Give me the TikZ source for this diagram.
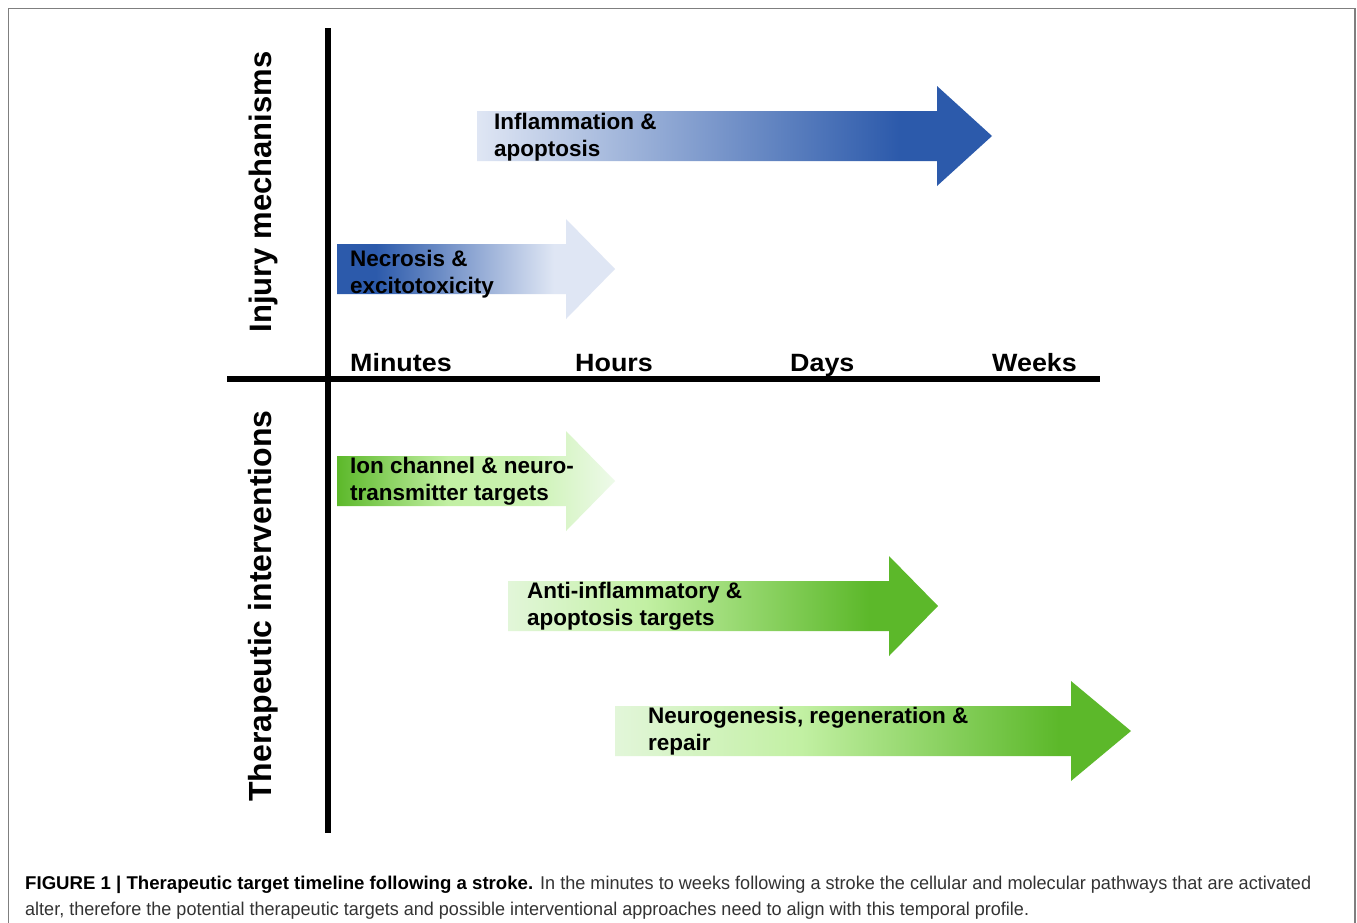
\documentclass[tikz,border=0pt]{standalone}
\usepackage{fontspec}
\setmainfont{Liberation Sans}
\usepackage{graphicx}
\definecolor{bluedark}{HTML}{2C5AAB}
\definecolor{bluelight}{HTML}{DFE6F4}
\definecolor{greendark}{HTML}{5CB82A}
\definecolor{greenlime}{HTML}{C2F0A3}
\definecolor{greenlight}{HTML}{E2F6D9}
\definecolor{greenpale}{HTML}{EEFAEA}
\definecolor{framegray}{HTML}{7F7F7F}
\definecolor{captext}{HTML}{333333}
\pgfdeclarehorizontalshading{inflamshade}{100bp}{color(0bp)=(bluelight); color(25bp)=(bluelight); color(66bp)=(bluedark); color(100bp)=(bluedark)}
\pgfdeclarehorizontalshading{necroshade}{100bp}{color(0bp)=(bluedark); color(25bp)=(bluedark); color(32bp)=(bluedark); color(64bp)=(bluelight); color(100bp)=(bluelight)}
\pgfdeclarehorizontalshading{ionshade}{100bp}{color(0bp)=(greendark); color(25bp)=(greendark); color(45bp)=(greenlime); color(60bp)=(greenlime!70!greenlight); color(75bp)=(greenpale); color(100bp)=(greenpale)}
\pgfdeclarehorizontalshading{antishade}{100bp}{color(0bp)=(greenlight); color(25bp)=(greenlight); color(41bp)=(greenlime); color(67bp)=(greendark); color(100bp)=(greendark)}
\pgfdeclarehorizontalshading{neuroshade}{100bp}{color(0bp)=(greenlight); color(25bp)=(greenlight); color(43bp)=(greenlime); color(68bp)=(greendark); color(100bp)=(greendark)}
\newcommand\blockarrow[5]{%
  \shade[shading=#1] (#2,#5-25) -- (#3,#5-25) -- (#3,#5-50) -- (#4,#5)
    -- (#3,#5+50) -- (#3,#5+25) -- (#2,#5+25) -- cycle;}
\newlength\capwA
\newlength\capwB
\newlength\capwC
\newcommand\capfont{\fontsize{18.5}{26}\selectfont}
\newcommand\capboldtext{\bfseries FIGURE 1 | Therapeutic target timeline following a stroke.}
\newcommand\caprestA{In the minutes to weeks following a stroke the cellular and molecular pathways that are activated}
\newcommand\caplineB{alter, therefore the potential therapeutic targets and possible interventional approaches need to align with this temporal profile.}
\tikzset{
  axisline/.style={line width=6pt, black},
  armlabel/.style={anchor=west, inner sep=0pt, align=left, font=\fontsize{22.5}{26.5}\selectfont\bfseries},
  ticklabel/.style={anchor=base west, inner sep=0pt, font=\fontsize{25}{30}\selectfont\bfseries},
  sidelabel/.style={anchor=base, inner sep=0pt, rotate=90, font=\fontsize{31}{36}\selectfont\bfseries},
  capline/.style={anchor=base west, inner sep=0pt, text=captext}
}
\newcommand\wide[1]{\scalebox{1.075}[1]{#1}}
\begin{document}
\settowidth\capwA{\capfont\capboldtext}%
\settowidth\capwB{\capfont\caprestA}%
\settowidth\capwC{\capfont\caplineB}%
\pgfmathsetmacro\capscaleA{508/\capwA}%
\pgfmathsetmacro\capscaleB{771/\capwB}%
\pgfmathsetmacro\capscaleC{1004/\capwC}%
\begin{tikzpicture}[x=1pt,y=-1pt]
\useasboundingbox (0,0) rectangle (1357,922);
\fill[white] (0,0) rectangle (1357,922);
\draw[framegray, line width=1.6pt] (8.5,8.5) rectangle (1355,960);
% arrows
\blockarrow{inflamshade}{477}{937}{992}{136}
\blockarrow{necroshade}{337}{566}{615}{269}
\blockarrow{ionshade}{337}{566}{615}{481}
\blockarrow{antishade}{508}{889}{938}{606}
\blockarrow{neuroshade}{615}{1071}{1131}{731}
% axes
\coordinate (vtop) at (327.5,28);
\coordinate (vbot) at (327.5,833);
\coordinate (hleft) at (227,378.5);
\coordinate (hright) at (1100,378.5);
\draw[axisline] (vtop) -- (vbot);
\draw[axisline] (hleft) -- (hright);
% arrow labels
\node[armlabel] (inflam) at (494,137) {Inflammation \&\\apoptosis};
\node[armlabel] (necro) at (350,274) {Necrosis \&\\excitotoxicity};
\node[armlabel] (ion) at (350,481) {Ion channel \& neuro-\\transmitter targets};
\node[armlabel] (anti) at (527,606) {Anti-inflammatory \&\\apoptosis targets};
\node[armlabel] (neuro) at (648,731) {Neurogenesis, regeneration \&\\repair};
% time labels
\node[ticklabel] (minutes) at (350,371) {\wide{Minutes}};
\node[ticklabel] (hours) at (575,371) {\wide{Hours}};
\node[ticklabel] (days) at (790,371) {\wide{Days}};
\node[ticklabel] (weeks) at (992,371) {\wide{Weeks}};
% side labels
\node[sidelabel] (injury) at (271,192) {Injury mechanisms};
\node[sidelabel, font=\fontsize{32}{36}\selectfont\bfseries] (therapy) at (271,606) {Therapeutic interventions};
% caption
\node[capline, text=black] (cap1) at (25,889) {\scalebox{\capscaleA}[1]{\capfont\capboldtext}};
\node[capline] (cap1b) at (540,889) {\scalebox{\capscaleB}[1]{\capfont\caprestA}};
\node[capline] (cap2) at (25,915) {\scalebox{\capscaleC}[1]{\capfont\caplineB}};
\end{tikzpicture}
\end{document}
